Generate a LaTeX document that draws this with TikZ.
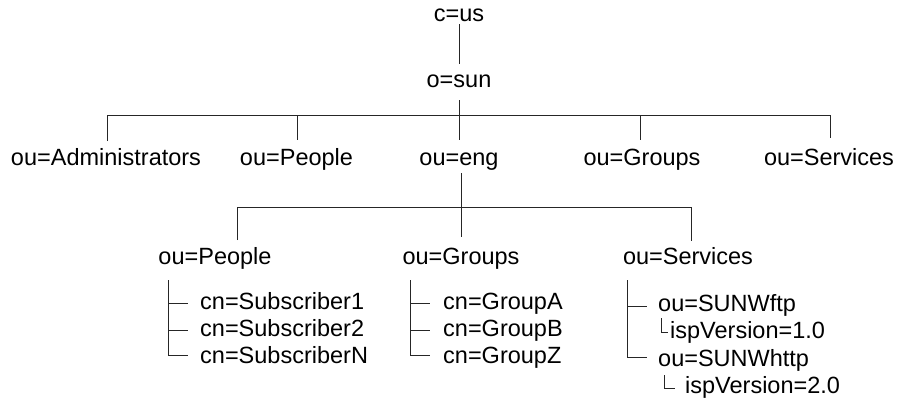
\documentclass[tikz,border=0pt]{standalone}
\usepackage{fontspec}
\setmainfont{Liberation Sans}
\begin{document}
\begin{tikzpicture}[x=1pt,y=-1pt,
  lbl/.style={inner sep=0pt, font=\fontsize{23.5}{28}\selectfont},
  ctr/.style={lbl, anchor=base},
  lft/.style={lbl, anchor=base west},
  link/.style={line width=0.9pt, draw=black!85}]
\useasboundingbox (0,0) rectangle (898,400);

% --- directory entries ---
\node[ctr] (cus) at (459,21) {c=us};
\node[ctr] (osun) at (459,87) {o=sun};

\node[ctr] (admins) at (106,165) {ou=Administrators};
\node[ctr] (people) at (296.5,165) {ou=People};
\node[ctr] (eng) at (459,165) {ou=eng};
\node[ctr] (groups) at (642,165) {ou=Groups};
\node[ctr] (services) at (829,165) {ou=Services};

\node[ctr] (epeople) at (215,264) {ou=People};
\node[ctr] (egroups) at (461,264) {ou=Groups};
\node[ctr] (eservices) at (688,264) {ou=Services};

\node[lft] (sub1) at (200,309) {cn=Subscriber1};
\node[lft] (sub2) at (200,336) {cn=Subscriber2};
\node[lft] (subn) at (200,363) {cn=SubscriberN};

\node[lft] (ga) at (443,309) {cn=GroupA};
\node[lft] (gb) at (443,336) {cn=GroupB};
\node[lft] (gz) at (443,363) {cn=GroupZ};

\node[lft] (ftp) at (658,311) {ou=SUNWftp};
\node[lft] (ftpv) at (670,338) {ispVersion=1.0};
\node[lft] (http) at (658,366) {ou=SUNWhttp};
\node[lft] (httpv) at (685,393) {ispVersion=2.0};

% --- junction points ---
\coordinate (cusB) at (459,24);
\coordinate (osunT) at (459,64);
\coordinate (osunB) at (459,100);
\coordinate (barL) at (107,115);
\coordinate (barR) at (830,115);
\coordinate (barM) at (459,115);
\coordinate (admT) at (107,141);
\coordinate (pplTop) at (297,115);
\coordinate (pplT) at (297,140);
\coordinate (engT) at (459,140);
\coordinate (grpTop) at (640,115);
\coordinate (grpT) at (640,140);
\coordinate (srvT) at (830,138);

\coordinate (engB) at (461,173);
\coordinate (engBar) at (461,207);
\coordinate (egrpT) at (461,237);
\coordinate (bar2L) at (237,207);
\coordinate (bar2R) at (691,207);
\coordinate (epplT) at (237,240);
\coordinate (esrvT) at (691,241);

\coordinate (pTop) at (168,280);
\coordinate (p1) at (168,303);
\coordinate (p2) at (168,330);
\coordinate (pN) at (168,355);

\coordinate (gTop) at (410,280);
\coordinate (g1) at (410,303);
\coordinate (g2) at (410,330);
\coordinate (gN) at (410,355);

\coordinate (sTop) at (627,280);
\coordinate (s1) at (627,306);
\coordinate (sN) at (627,357);

\coordinate (v1T) at (661,318);
\coordinate (v1B) at (661,332);
\coordinate (v2T) at (664,375);
\coordinate (v2B) at (664,388);

% --- connectors ---
\draw[link] (cusB) -- (osunT);
\draw[link] (osunB) -- (barM);
\draw[link] (admT) -- (barL) -- (barR) -- (srvT);
\draw[link] (pplTop) -- (pplT);
\draw[link] (barM) -- (engT);
\draw[link] (grpTop) -- (grpT);

\draw[link] (engB) -- (egrpT);
\draw[link] (epplT) -- (bar2L) -- (bar2R) -- (esrvT);

\draw[link] (pTop) -- (pN) -- ++(20,0);
\draw[link] (p1) -- ++(20,0);
\draw[link] (p2) -- ++(20,0);

\draw[link] (gTop) -- (gN) -- ++(20,0);
\draw[link] (g1) -- ++(20,0);
\draw[link] (g2) -- ++(20,0);

\draw[link] (sTop) -- (sN) -- ++(20,0);
\draw[link] (s1) -- ++(20,0);

\draw[link] (v1T) -- (v1B) -- ++(7,0);
\draw[link] (v2T) -- (v2B) -- ++(11,0);
\end{tikzpicture}
\end{document}
